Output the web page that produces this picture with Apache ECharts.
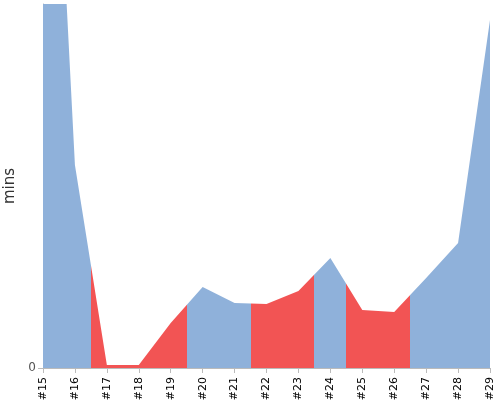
<!DOCTYPE html>
<html><head><meta charset="utf-8">
<script src="https://cdn.jsdelivr.net/npm/echarts@6/dist/echarts.min.js"></script>
<style>html,body{margin:0;padding:0;background:#fff}#c{width:500px;height:400px}</style>
</head><body><div id="c"></div>
<script>
const categories = ['#15','#16','#17','#18','#19','#20','#21','#22','#23','#24','#25','#26','#27','#28','#29'];
const values = [823, 203, 3, 3, 45, 81, 65, 64, 77, 110, 58, 56, 90, 125, 348];
const yMax = 364;
const blue = '#8fb1da', red = '#f25454';
const sections = [
  {gte: -1, lt: 1.5, color: blue},
  {gte: 1.5, lt: 4.5, color: red},
  {gte: 4.5, lt: 6.5, color: blue},
  {gte: 6.5, lt: 8.5, color: red},
  {gte: 8.5, lt: 9.5, color: blue},
  {gte: 9.5, lt: 11.5, color: red},
  {gte: 11.5, lte: 15, color: blue}
];
const points = values.map((v, i) => [i, v]);
const chart = echarts.init(document.getElementById('c'));
chart.setOption({
  animation: false,
  textStyle: {fontFamily: 'DejaVu Sans'},
  grid: {left: 43, right: 10, top: 4, bottom: 32, outerBoundsMode: 'none'},
  visualMap: {show: false, type: 'piecewise', dimension: 0, seriesIndex: 0, pieces: sections},
  xAxis: {
    type: 'value', min: 0, max: categories.length - 1, interval: 1, offset: 4,
    splitLine: {show: false},
    axisLine: {lineStyle: {color: '#bbb'}},
    axisTick: {length: 5, lineStyle: {color: '#bbb'}},
    axisLabel: {rotate: 90, fontSize: 11, color: '#000', margin: 5,
      formatter: v => categories[Math.round(v)] || ''}
  },
  yAxis: {
    type: 'value', min: 0, max: yMax, offset: 3,
    name: 'mins', nameLocation: 'middle', nameGap: 19, nameRotate: 90,
    nameTextStyle: {fontSize: 15, color: '#333'},
    splitLine: {show: false},
    axisLine: {show: true, lineStyle: {color: '#bbb'}},
    axisTick: {show: true, length: 5, customValues: [0], lineStyle: {color: '#bbb'}},
    axisLabel: {customValues: [0], fontSize: 12, color: '#555', margin: 4}
  },
  series: [{
    type: 'line', data: points, symbol: 'none',
    lineStyle: {width: 0},
    areaStyle: {opacity: 1}
  }]
});
</script></body></html>
